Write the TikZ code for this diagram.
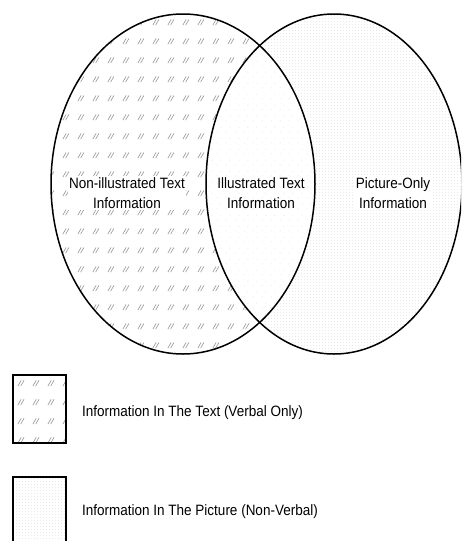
\documentclass[tikz,border=0pt]{standalone}
\usepackage{fontspec}
\setmainfont[FakeStretch=0.9]{Liberation Sans}
\usetikzlibrary{patterns.meta}

\tikzdeclarepattern{name=slashmarks, type=uncolored,
  bounding box={(0pt,0pt) and (15pt,19pt)}, tile size={(15pt,19pt)},
  code={\draw[line width=0.6pt] (3pt,3pt) -- (6.5pt,9pt) (6pt,3pt) -- (9.5pt,9pt);}}
\tikzdeclarepattern{name=dotfill, type=uncolored,
  bounding box={(0pt,0pt) and (2.6pt,3pt)}, tile size={(2.6pt,3pt)},
  code={\fill (0pt,0pt) rectangle (0.7pt,0.7pt);}}
\tikzdeclarepattern{name=speckle, type=uncolored,
  bounding box={(0pt,0pt) and (9pt,11pt)}, tile size={(9pt,11pt)},
  code={\fill (1pt,2pt) rectangle (1.7pt,2.7pt); \fill (5pt,7pt) rectangle (5.7pt,7.7pt);}}

\tikzset{
  ell/.style={x radius=132, y radius=170},
  rell/.style={x radius=128, y radius=170},
  outline/.style={line width=1.5pt},
  lbl/.style={font=\fontsize{15}{20.7}\selectfont, align=center, fill=white, inner sep=1.5pt},
  legendbox/.style={draw, line width=1.6pt, minimum width=53, minimum height=68, inner sep=0pt},
  legendtext/.style={font=\fontsize{15}{18}\selectfont, anchor=west, inner sep=0pt}
}

\begin{document}
\begin{tikzpicture}[x=1pt,y=-1pt]
\useasboundingbox (0,0) rectangle (461,541);
\clip (0,0) rectangle (461,541);
\fill[white] (0,0) rectangle (461,541);

\coordinate (lc) at (183,184);
\coordinate (rc) at (334,184);

% left set: text information
\fill[pattern=slashmarks, pattern color=gray!85] (lc) ellipse [ell];
% right set: picture information
\fill[white] (rc) ellipse [rell];
\fill[pattern=dotfill, pattern color=gray!40] (rc) ellipse [rell];
% intersection
\begin{scope}
  \clip (lc) ellipse [ell];
  \fill[white] (rc) ellipse [rell];
  \fill[pattern=speckle, pattern color=gray!40] (rc) ellipse [rell];
\end{scope}

\draw[outline] (lc) ellipse [ell];
\draw[outline] (rc) ellipse [rell];

\node[lbl] (nontext) at (127,193) {Non-illustrated Text\\Information};
\node[lbl, fill=none] (illtext) at (261,193) {Illustrated Text\\Information};
\node[lbl] (piconly) at (393,193) {Picture-Only\\Information};

% legend
\node[legendbox, pattern=slashmarks, pattern color=gray!85] (key1) at (39.5,409) {};
\node[legendtext] (key1t) at (82,413) {Information In The Text (Verbal Only)};
\node[legendbox, minimum height=82, pattern=dotfill, pattern color=gray!40] (key2) at (39.5,518) {};
\node[legendtext] (key2t) at (82,512) {Information In The Picture (Non-Verbal)};
\end{tikzpicture}
\end{document}
